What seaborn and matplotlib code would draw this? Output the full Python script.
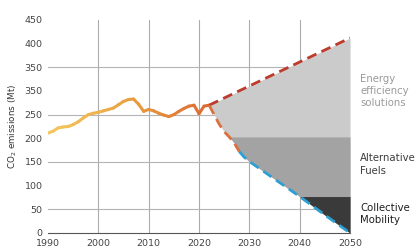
import numpy as np
import seaborn as sns
import matplotlib.pyplot as plt
from matplotlib.collections import LineCollection

# historical CO2 emissions (Mt)
hist_years = np.arange(1990, 2023)
hist_values = [211, 215, 222, 224, 225, 229, 235, 243, 250, 253,
               255, 258, 261, 264, 271, 278, 282, 283, 272, 257,
               261, 258, 253, 249, 246, 250, 257, 263, 268, 270,
               252, 268, 270]

# projections
bau_years = [2022, 2050]
bau_values = [270, 412]
target_years = [2022, 2023, 2024, 2025, 2026, 2027, 2028, 2029, 2030,
                2035, 2040, 2045, 2050]
target_values = [270, 250, 230, 214, 203, 190, 172, 160, 151,
                 114, 77, 38, 0]

# wedge boundaries
efficiency_floor = 203
mobility_top = 77

wedge_labels = ["Energy\nefficiency\nsolutions", "Alternative\nFuels", "Collective\nMobility"]
wedge_label_y = [300, 145, 40]
wedge_label_colors = ["#9a9a9a", "#3c3c3c", "#1e1e1e"]

yticks = [0, 50, 100, 150, 200, 250, 300, 350, 400, 450]
ytick_labels = ["0", "50", "100", "150", "200", "250", "350", "350", "400", "450"]
xticks = [1990, 2000, 2010, 2020, 2030, 2040, 2050]

sns.set_style("white")
plt.rcParams['font.family'] = ['DejaVu Sans']

fig = plt.figure(figsize=(4.19, 2.49), dpi=100)
ax = fig.add_axes([0.1146, 0.0643, 0.7208, 0.8554])

# grid
for x in [2000, 2010, 2020, 2030, 2040]:
    ax.axvline(x, color="#ababab", lw=0.8, zorder=0)
for y in [50, 150, 250, 350]:
    ax.axhline(y, color="#b4b4b4", lw=0.8, zorder=0)

# wedges
tx = np.array(target_years, dtype=float)
lower = np.array(target_values, dtype=float)
upper = np.interp(tx, bau_years, bau_values)
ax.fill_between(tx, lower, upper, color="#cbcbcb", lw=0, zorder=1)
ax.fill_between(tx, lower, efficiency_floor, where=lower <= efficiency_floor,
                interpolate=True, color="#a3a3a3", lw=0, zorder=2)
ax.fill_between(tx, lower, mobility_top, where=lower <= mobility_top,
                interpolate=True, color="#3a3a3a", lw=0, zorder=3)

# historical line with gradient
cmap = sns.blend_palette(["#f3c75e", "#eeb04a", "#e5903c", "#dc6c34"], as_cmap=True)
pts = np.column_stack([hist_years, hist_values]).reshape(-1, 1, 2)
segs = np.concatenate([pts[:-1], pts[1:]], axis=1)
lc = LineCollection(segs, cmap=cmap, linewidths=2.2, capstyle="round",
                    joinstyle="round", zorder=5)
lc.set_array(np.linspace(0, 1, len(segs)))
ax.add_collection(lc)

# projections
dash = (3.6, 2.0)
sns.lineplot(x=bau_years, y=bau_values, ax=ax, color="#bd3b2c", lw=2.0, zorder=6)
ax.lines[-1].set_dashes(dash)
ax.plot(target_years[:7], target_values[:7], color="#d9713f", lw=2.0,
        dashes=dash, zorder=6)
ax.plot(target_years[6:], target_values[6:], color="#2e9fd3", lw=2.0,
        dashes=dash, zorder=6)

for lab, yv, col in zip(wedge_labels, wedge_label_y, wedge_label_colors):
    ax.text(2052, yv, lab, color=col, fontsize=7.3, va="center", ha="left",
            linespacing=1.3, clip_on=False)

ax.set_xlim(1990, 2050)
ax.set_ylim(0, 450)
ax.set_xticks(xticks)
ax.set_yticks(yticks)
ax.set_yticklabels(ytick_labels)
ax.tick_params(labelsize=6.8, colors="#444444", length=0, pad=4)
ax.set_ylabel("CO$_2$ emissions (Mt)", fontsize=6.3, color="#333333", labelpad=4)
ax.set_xlabel("")

sns.despine(ax=ax, left=True)
ax.spines["bottom"].set_color("#555555")
ax.spines["bottom"].set_linewidth(0.8)
ax.spines["bottom"].set_zorder(7)

fig.savefig("out.png", dpi=100)
